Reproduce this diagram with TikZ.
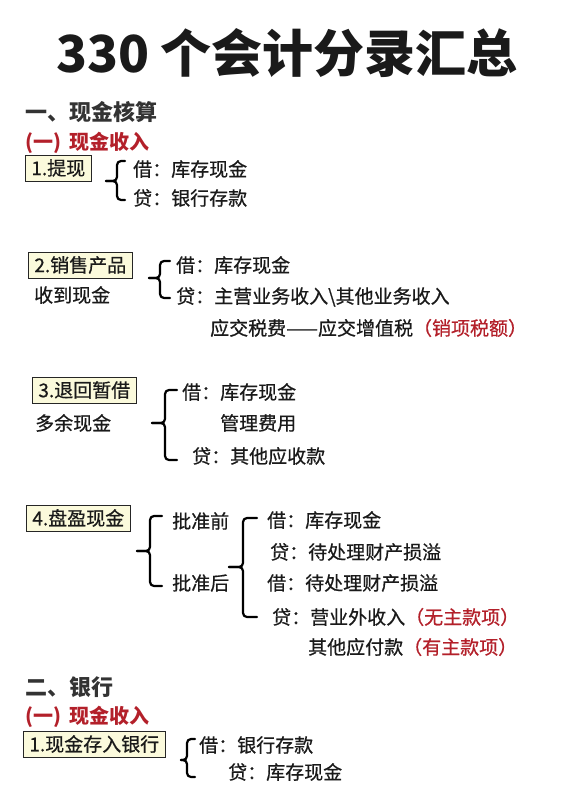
\documentclass[tikz,border=0pt]{standalone}
\usepackage{fontspec}
\setmainfont{Noto Sans CJK SC}
\newfontfamily\zhengwen{Noto Sans CJK SC}[FakeBold=0.6]
\usepackage{xcolor}
\usepackage{tikz}
\definecolor{textblack}{HTML}{1A1A1A}
\definecolor{headgray}{HTML}{333333}
\definecolor{darkred}{HTML}{B3202A}
\definecolor{boxyellow}{HTML}{FBFADC}

% brace: nib x, stem x, hook x, top y, nib y, bottom y
\newcommand{\kuohao}[6]{%
  \draw[kuohaoline] (#3,#4) -- (#2,#4) -- (#2,#5) -- (#1,#5);
  \draw[kuohaoline] (#1,#5) -- (#2,#5) -- (#2,#6) -- (#3,#6);
}

\begin{document}
\begin{tikzpicture}[x=1pt,y=-1pt,
  every node/.style={inner sep=0pt,anchor=west,text=textblack,font=\fontsize{19}{22}\zhengwen},
  kemu/.style={draw=black!85,fill=boxyellow,line width=0.8pt,inner xsep=6pt,minimum height=26pt},
  biaoti/.style={font=\fontsize{22}{26}\selectfont\bfseries,text=headgray},
  xiaobiaoti/.style={font=\fontsize{20}{24}\selectfont\bfseries,text=darkred},
  kuohaoline/.style={line width=2.2pt,rounded corners=4pt,line cap=round}]
	\useasboundingbox (0,0) rectangle (570,805);
	\node[anchor=center,font=\fontsize{51}{60}\selectfont\bfseries] (title) at (287,53) {330 个会计分录汇总};

	% 一、现金核算
	\node[biaoti] (h1) at (25,112) {一、现金核算};
	\node[xiaobiaoti] (h1a) at (25,143) {(一)\, 现金收入};

	\node[kemu] (tixian) at (25,168) {1.提现};
	\kuohao{106}{117}{125}{161}{181}{200}
	\node (tixianJ) at (133,169) {借：库存现金};
	\node (tixianD) at (133,198) {贷：银行存款};

	\node[kemu] (xiaoshou) at (28,265) {2.销售产品};
	\node (xiaoshouB) at (34,295) {收到现金};
	\kuohao{149}{160}{170}{261}{278}{298}
	\node (xiaoshouJ) at (176,265) {借：库存现金};
	\node (xiaoshouD) at (176,297) {贷：主营业务收入\textbackslash 其他业务收入};
	\node (xiaoshouS) at (210,328) {应交税费——应交增值税\textcolor{darkred}{（销项税额）}};

	\node[kemu] (tuihui) at (32,390) {3.退回暂借};
	\node (tuihuiB) at (35,423) {多余现金};
	\kuohao{152}{165}{177}{390}{423}{460}
	\node (tuihuiJ) at (182,392) {借：库存现金};
	\node (tuihuiG) at (220,423) {管理费用};
	\node (tuihuiD) at (192,456) {贷：其他应收款};

	\node[kemu] (panying) at (26,518) {4.盘盈现金};
	\kuohao{137}{150}{162}{516}{551}{586}
	\node (qian) at (172,521) {批准前};
	\node (hou) at (172,583) {批准后};
	\kuohao{229}{243}{257}{518}{567}{617}
	\node (qianJ) at (267,520) {借：库存现金};
	\node (qianD) at (270,552) {贷：待处理财产损溢};
	\node (houJ) at (267,583) {借：待处理财产损溢};
	\node (houD) at (272,617) {贷：营业外收入\textcolor{darkred}{（无主款项）}};
	\node (houD2) at (308,647) {其他应付款\textcolor{darkred}{（有主款项）}};

	% 二、银行
	\node[biaoti] (h2) at (25,687) {二、银行};
	\node[xiaobiaoti] (h2a) at (25,717) {(一)\, 现金收入};

	\node[kemu] (cunru) at (23,744) {1.现金存入银行};
	\kuohao{181}{187}{195}{739}{760}{777}
	\node (cunruJ) at (199,745) {借：银行存款};
	\node (cunruD) at (228,772) {贷：库存现金};
\end{tikzpicture}
\end{document}
